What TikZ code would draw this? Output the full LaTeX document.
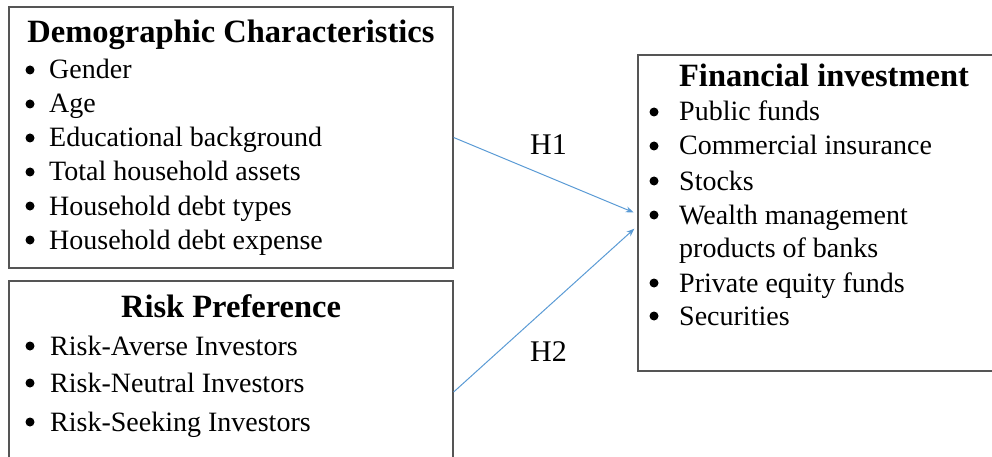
\documentclass[tikz,border=0pt]{standalone}
\usepackage{fontspec}
\setmainfont{Liberation Serif}
\usetikzlibrary{arrows.meta}
\definecolor{boxgray}{RGB}{85,85,85}
\definecolor{linkblue}{RGB}{91,155,213}
\tikzset{
  box/.style={draw=boxgray,line width=1.3pt,inner sep=0pt},
  boxtitle/.style={anchor=base,inner sep=0pt,font=\fontsize{32.5}{39}\selectfont\bfseries},
  item/.style={anchor=base west,inner sep=0pt,font=\fontsize{28}{34}\selectfont},
  dot/.style={circle,fill=black,inner sep=0pt,minimum size=9pt},
  link/.style={draw=linkblue,line width=1pt,-{Stealth[length=8pt,width=6pt]},shorten >=4pt}
}
\begin{document}
\begin{tikzpicture}[x=1pt,y=-1pt]
\useasboundingbox (0,0) rectangle (992,457);
% boxes
\node[box,minimum width=444,minimum height=261] (demo) at (231,137.5) {};
\node[box,minimum width=444,minimum height=222] (risk) at (231,392) {};
\node[box,minimum width=372,minimum height=316] (invest) at (824,213) {};
% titles
\node[boxtitle] (demotitle) at (231,43) {Demographic Characteristics};
\node[boxtitle] (risktitle) at (231,317) {Risk Preference};
\node[boxtitle] (investtitle) at (824,87) {Financial investment};
% lists
\foreach \y/\txt [count=\i] in {79/Gender,113/Age,147/Educational background,181/Total household assets,215/Household debt types,249/Household debt expense}{
  \node[dot] (db\i) at (30,\y-9) {};
  \node[item] (d\i) at (49,\y) {\txt};
}
\foreach \y/\txt [count=\i] in {355/Risk-Averse Investors,392/Risk-Neutral Investors,431/Risk-Seeking Investors}{
  \node[dot] (rb\i) at (30,\y-9) {};
  \node[item] (r\i) at (50,\y) {\txt};
}
\foreach \y/\txt [count=\i] in {121/Public funds,155/Commercial insurance,190/Stocks,224/Wealth management,292/Private equity funds,325/Securities}{
  \node[dot] (ib\i) at (654,\y-9) {};
  \node[item] (i\i) at (679,\y) {\txt};
}
\node[item] (i4b) at (679,257) {products of banks};
% hypotheses
\coordinate (in1) at ([yshift=-1pt]invest.west);
\coordinate (in2) at ([yshift=-13pt]invest.west);
\draw[link] (demo.east) -- (in1);
\draw[link] (risk.east) -- (in2);
\node[item,font=\fontsize{30}{36}\selectfont] (h1) at (530,155) {H1};
\node[item,font=\fontsize{30}{36}\selectfont] (h2) at (530,361) {H2};
\end{tikzpicture}
\end{document}
